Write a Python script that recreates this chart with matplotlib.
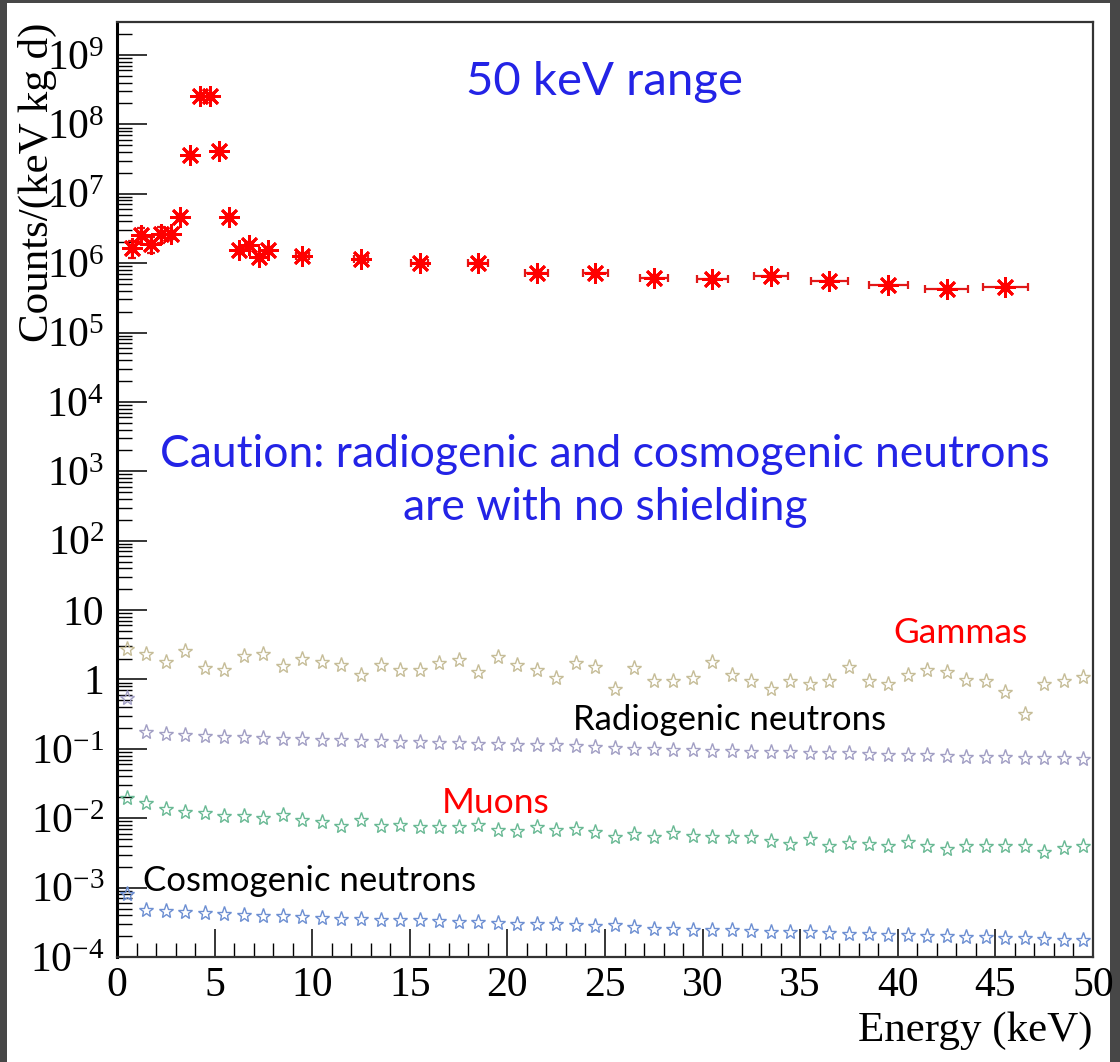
import numpy as np
import matplotlib
matplotlib.use("Agg")
import matplotlib.pyplot as plt
from matplotlib.ticker import LogLocator, FuncFormatter, MultipleLocator, NullFormatter
from matplotlib.patches import Rectangle

plt.rcParams['font.family'] = ['Liberation Serif', 'DejaVu Serif']
plt.rcParams['mathtext.fontset'] = 'custom'
plt.rcParams['mathtext.rm'] = 'Liberation Serif'

# red points (total, 50 keV range) with variable bins
red_x = [0.75, 1.25, 1.75, 2.25, 2.75, 3.25, 3.75, 4.25, 4.75, 5.25, 5.75, 6.25, 6.75, 7.25, 7.75,
         9.5, 12.5, 15.5, 18.5, 21.5, 24.5, 27.5, 30.5, 33.5, 36.5, 39.5, 42.5, 45.5]
red_y = [1.64e6, 2.55e6, 1.89e6, 2.63e6, 2.6e6, 4.68e6, 3.6e7, 2.57e8, 2.57e8, 4.1e7, 4.68e6,
         1.55e6, 1.82e6, 1.24e6, 1.55e6, 1.28e6, 1.14e6, 1.02e6, 9.96e5, 7.15e5, 7.3e5, 6.18e5,
         5.86e5, 6.55e5, 5.54e5, 4.85e5, 4.25e5, 4.5e5]
red_xerr = [0.1] * 15 + [0.35, 0.38, 0.43, 0.5, 0.6, 0.64, 0.71, 0.79, 0.88, 0.93, 1.0, 1.09, 1.15]
red_yerr = [4.5e5, 6.5e5, 4.8e5, 6.5e5, 3.5e5, 3e5, 1.5e6, 8e6, 8e6, 1.5e6, 3e5,
            1e5, 1e5, 8e4, 1e5, 5e4, 4e4, 3e4, 3e4, 2e4, 2e4, 2e4, 2e4, 2e4, 2e4, 2e4, 2e4, 2e4]

# 1 keV bins for the other backgrounds
star_x = np.arange(0.5, 50, 1.0)
gammas = [2.73, 2.34, 1.81, 2.53, 1.45, 1.38, 2.21, 2.34, 1.57, 1.98,
          1.81, 1.62, 1.17, 1.59, 1.38, 1.38, 1.72, 1.92, 1.27, 2.14,
          1.59, 1.38, 1.04, 1.75, 1.49, 0.74, 1.45, 0.955, 0.955, 1.04,
          1.81, 1.17, 0.955, 0.73, 0.955, 0.855, 0.955, 1.49, 0.96, 0.855,
          1.17, 1.38, 1.27, 0.985, 0.96, 0.65, 0.316, 0.855, 0.96, 1.07]
radiogenic = [0.537, 0.174, 0.163, 0.156, 0.151, 0.147, 0.146, 0.141, 0.138, 0.138,
              0.135, 0.132, 0.130, 0.128, 0.124, 0.124, 0.121, 0.121, 0.118, 0.117,
              0.114, 0.113, 0.112, 0.109, 0.107, 0.103, 0.100, 0.099, 0.0968, 0.095,
              0.094, 0.0917, 0.0907, 0.0897, 0.0897, 0.0867, 0.0857, 0.0857, 0.0837, 0.0811,
              0.0811, 0.0802, 0.0776, 0.0768, 0.0768, 0.0760, 0.0734, 0.0726, 0.0726, 0.0710]
muons = [0.0195, 0.0165, 0.0135, 0.0125, 0.0118, 0.0108, 0.0106, 0.0100, 0.0112, 0.00948,
         0.00897, 0.0076, 0.00948, 0.0076, 0.00803, 0.00744, 0.00744, 0.00744, 0.00787, 0.00681,
         0.00644, 0.00744, 0.0067, 0.0071, 0.0064, 0.00545, 0.0059, 0.00545, 0.0061, 0.0056,
         0.00528, 0.00528, 0.00528, 0.00463, 0.00423, 0.00505, 0.00392, 0.00438, 0.00423, 0.0040,
         0.00447, 0.00404, 0.00362, 0.0040, 0.00392, 0.00392, 0.0040, 0.00324, 0.00369, 0.00392]
cosmogenic = [8.05e-4, 4.79e-4, 4.53e-4, 4.43e-4, 4.28e-4, 4.19e-4, 4.05e-4, 3.92e-4, 3.84e-4, 3.71e-4,
              3.63e-4, 3.55e-4, 3.51e-4, 3.44e-4, 3.36e-4, 3.36e-4, 3.25e-4, 3.18e-4, 3.15e-4, 3.08e-4,
              3.0e-4, 2.97e-4, 2.97e-4, 2.91e-4, 2.83e-4, 2.85e-4, 2.70e-4, 2.55e-4, 2.53e-4, 2.47e-4,
              2.47e-4, 2.41e-4, 2.39e-4, 2.33e-4, 2.29e-4, 2.27e-4, 2.21e-4, 2.16e-4, 2.14e-4, 2.09e-4,
              2.09e-4, 2.04e-4, 1.98e-4, 1.95e-4, 1.93e-4, 1.87e-4, 1.85e-4, 1.82e-4, 1.77e-4, 1.74e-4]

star_series = [
    (gammas, '#c6bd98'),
    (radiogenic, '#a29fc4'),
    (muons, '#69b994'),
    (cosmogenic, '#6d8fd2'),
]

fig = plt.figure(figsize=(11.2, 10.62), dpi=100)
fig.patch.set_facecolor('#474747')
fig.add_artist(Rectangle((7 / 1120, 0), 1103 / 1120, 1059 / 1062, transform=fig.transFigure,
                         facecolor='white', edgecolor='none', zorder=-10))
ax = fig.add_axes([117 / 1120, 105 / 1062, 976 / 1120, 935 / 1062])

for vals, col in star_series:
    ax.plot(star_x, vals, ls='none', marker='*', ms=11, mfc='none', mec=col, mew=1.0)

ax.errorbar(red_x, red_y, xerr=red_xerr, yerr=red_yerr, fmt='none', ecolor='#e01818',
            elinewidth=1.6, capsize=3, capthick=1.6)
ax.plot(red_x, red_y, ls='none', marker=(8, 2, 0), ms=15, mec='#ff0000', mew=2.0)
ax.plot(red_x, red_y, ls='none', marker='s', ms=6, mfc='#ff0000', mec='#ff0000')

ax.set_yscale('log')
ax.set_xlim(0, 50)
ax.set_ylim(1e-4, 10 ** 9.475)


def log_label(v, pos):
    e = int(round(np.log10(v)))
    if e == 0:
        return '1'
    if e == 1:
        return '10'
    return r'$\mathregular{10^{%d}}$' % e


ax.yaxis.set_major_locator(LogLocator(base=10, numticks=20))
ax.yaxis.set_minor_locator(LogLocator(base=10, subs=np.arange(2, 10), numticks=20))
ax.yaxis.set_major_formatter(FuncFormatter(log_label))
ax.yaxis.set_minor_formatter(NullFormatter())
ax.xaxis.set_major_locator(MultipleLocator(5))
ax.xaxis.set_minor_locator(MultipleLocator(1))

ax.tick_params(axis='both', which='both', direction='in', top=False, right=False,
               colors='black', labelsize=30)
ax.tick_params(axis='y', which='major', length=21.6, width=1.1, pad=9)
ax.tick_params(axis='y', which='minor', length=10.8, width=1.0)
ax.tick_params(axis='x', which='major', length=20, width=1.1, pad=7)
ax.tick_params(axis='x', which='minor', length=10, width=1.0)

for side in ['top', 'right', 'bottom']:
    ax.spines[side].set_linewidth(1.6)
    ax.spines[side].set_color('#333333')
ax.spines['left'].set_linewidth(2.2)
ax.spines['left'].set_color('black')

ax.set_xlabel('Energy (keV)', fontsize=31, loc='right')
ax.xaxis.set_label_coords(1.0, -0.058)
fig.text(37 / 1120, 1 - 23 / 1062, 'Counts/(keV kg d)', rotation=90, ha='center', va='top',
         fontsize=31)

sans = ['Lato', 'DejaVu Sans']
ax.text(0.5, 0.922, '50 keV range', transform=ax.transAxes, ha='center', va='baseline',
        fontsize=34, color='#2323e6', family=sans)
ax.text(0.5, 0.524, 'Caution: radiogenic and cosmogenic neutrons', transform=ax.transAxes,
        ha='center', va='baseline', fontsize=32, color='#2323e6', family=sans)
ax.text(0.5, 0.4674, 'are with no shielding', transform=ax.transAxes,
        ha='center', va='baseline', fontsize=32, color='#2323e6', family=sans)
ax.text(0.795, 0.3358, 'Gammas', transform=ax.transAxes, va='baseline', fontsize=25.5,
        color='#ff0000', family=sans)
ax.text(0.467, 0.2428, 'Radiogenic neutrons', transform=ax.transAxes, va='baseline', fontsize=25,
        color='black', family=sans)
ax.text(0.333, 0.154, 'Muons', transform=ax.transAxes, va='baseline', fontsize=25.5,
        color='#ff0000', family=sans)
ax.text(0.0266, 0.0706, 'Cosmogenic neutrons', transform=ax.transAxes, va='baseline', fontsize=25,
        color='black', family=sans)

fig.savefig('out.png', dpi=100, facecolor=fig.get_facecolor())
